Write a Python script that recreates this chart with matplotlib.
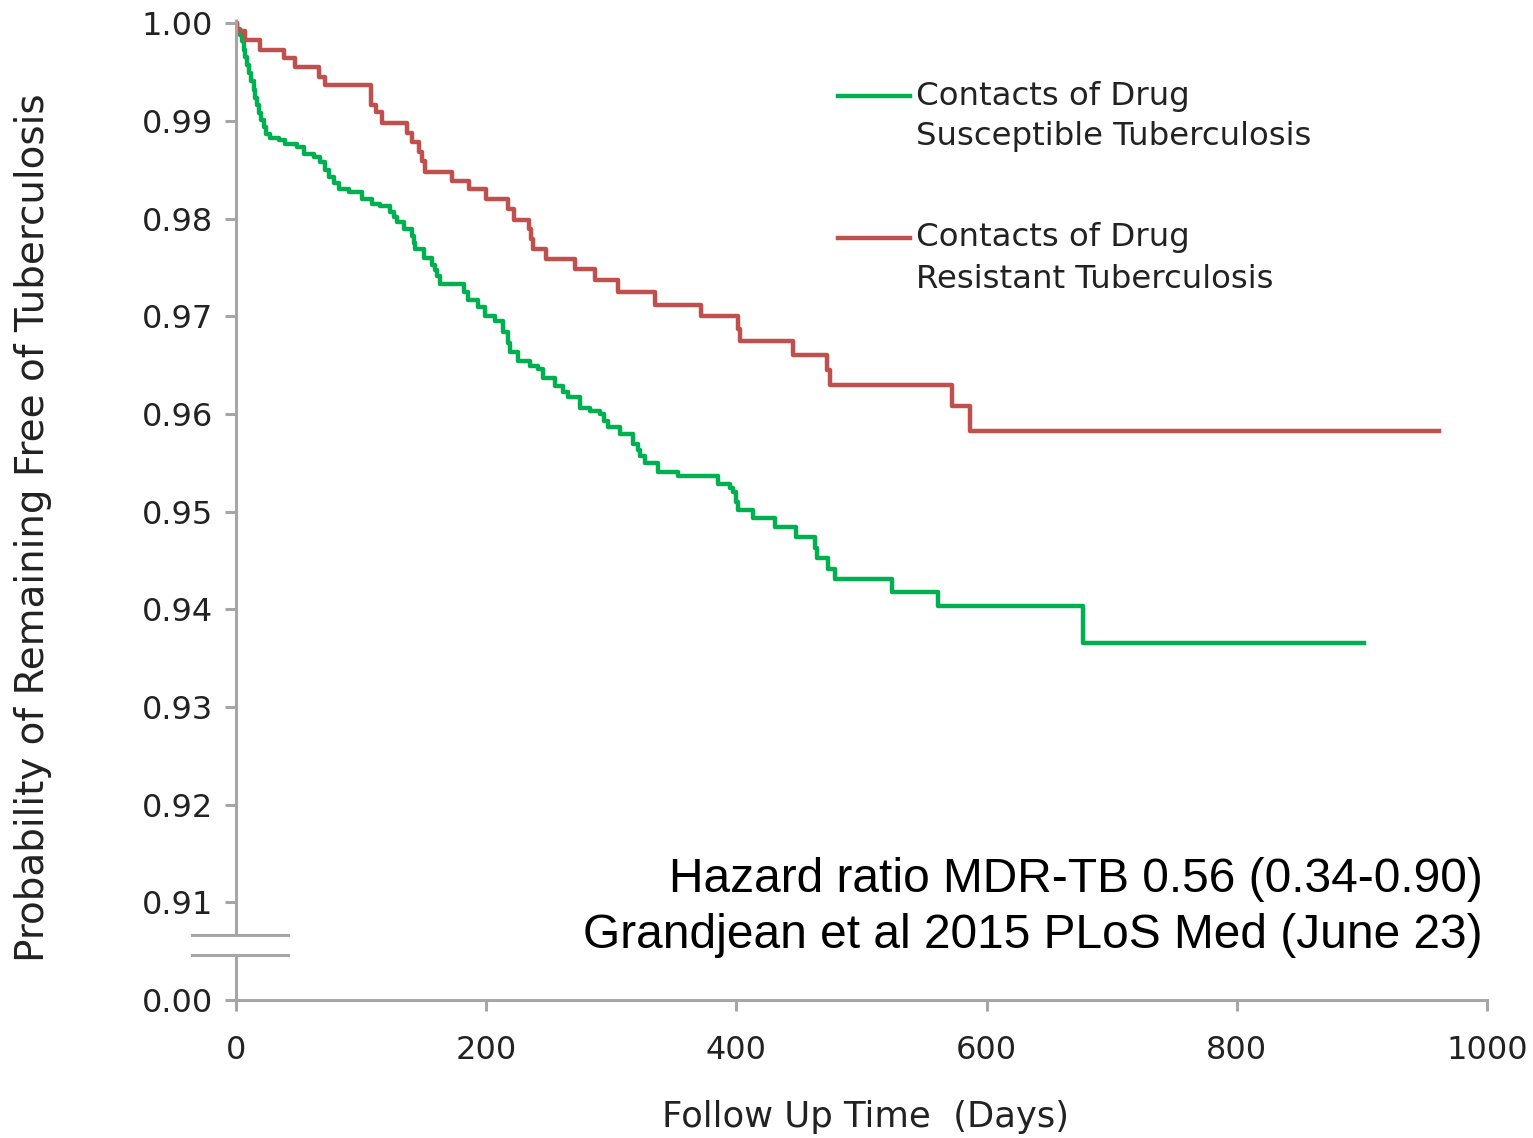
import numpy as np
import matplotlib
matplotlib.use("Agg")
import matplotlib.pyplot as plt
from matplotlib.lines import Line2D

# Kaplan-Meier step data (days, survival after each drop)
ds_days = [1, 3, 5, 6, 7, 9, 10, 12, 14, 15, 17, 18, 20, 22, 24, 27, 34, 39, 49, 54,
           62, 67, 71, 74, 78, 82, 90, 101, 109, 115, 123, 126, 129, 134, 141, 142, 143,
           150, 157, 159, 161, 163, 182, 185, 193, 199, 207, 213, 217, 219, 225, 235,
           241, 245, 255, 261, 265, 275, 283, 291, 294, 297, 307, 317, 321, 323, 327,
           337, 353, 385, 395, 397, 400, 401, 413, 431, 448, 463, 464, 473, 479, 524,
           561, 677]
ds_surv = [0.9994, 0.9988, 0.9982, 0.9973, 0.9965, 0.9957, 0.9949, 0.9941, 0.9932, 0.9924,
           0.9916, 0.9908, 0.9901, 0.9894, 0.9887, 0.9883, 0.9881, 0.9876, 0.9873, 0.9866,
           0.9863, 0.9858, 0.9850, 0.9843, 0.9836, 0.9830, 0.9827, 0.9820, 0.9815, 0.9813,
           0.9807, 0.9802, 0.9797, 0.9789, 0.9782, 0.9775, 0.9769, 0.9760, 0.9753, 0.9747,
           0.9741, 0.9733, 0.9725, 0.9717, 0.9710, 0.9700, 0.9695, 0.9684, 0.9673, 0.9663,
           0.9654, 0.9649, 0.9646, 0.9637, 0.9629, 0.9622, 0.9617, 0.9606, 0.9603, 0.9600,
           0.9593, 0.9587, 0.9579, 0.9569, 0.9563, 0.9557, 0.9550, 0.9541, 0.9536, 0.9528,
           0.9524, 0.9520, 0.9510, 0.9502, 0.9493, 0.9484, 0.9474, 0.9463, 0.9453, 0.9441,
           0.9431, 0.9418, 0.9403, 0.9366]
ds_end = 902

dr_days = [1, 7, 19, 38, 47, 66, 71, 108, 112, 117, 137, 141, 146, 149, 151, 173, 186,
           200, 217, 222, 234, 236, 237, 248, 271, 287, 305, 335, 372, 401, 403, 445, 472,
           475, 572, 587]
dr_surv = [0.9992, 0.9983, 0.9973, 0.9964, 0.9955, 0.9945, 0.9937, 0.9916, 0.9909, 0.9898,
           0.9888, 0.9878, 0.9868, 0.9859, 0.9848, 0.9839, 0.9830, 0.9820, 0.9810, 0.9799,
           0.9789, 0.9779, 0.9769, 0.9759, 0.9748, 0.9737, 0.9725, 0.9712, 0.9700, 0.9687,
           0.9675, 0.9660, 0.9645, 0.9630, 0.9608, 0.9583]
dr_end = 962

ytick_pos = [0.90, 0.91, 0.92, 0.93, 0.94, 0.95, 0.96, 0.97, 0.98, 0.99, 1.00]
ytick_labels = ["0.00", "0.91", "0.92", "0.93", "0.94", "0.95", "0.96", "0.97", "0.98", "0.99", "1.00"]
xtick_pos = [0, 200, 400, 600, 800, 1000]

green = "#00b050"
red = "#c0504d"
axis_gray = "#a6a6a6"
text_col = "#222222"


def km_curve(days, surv, end):
    x = np.concatenate([[0], days, [end]])
    y = np.concatenate([[1.0], surv, [surv[-1]]])
    return x, y


fig = plt.figure(figsize=(15.33, 11.38), dpi=100)
ax = fig.add_axes([0.1540, 0.12127, 0.8160, 0.8617])

x, y = km_curve(ds_days, ds_surv, ds_end)
ax.step(x, y, where="post", color=green, lw=3.2)
x, y = km_curve(dr_days, dr_surv, dr_end)
ax.step(x, y, where="post", color=red, lw=3.2)

ax.set_xlim(0, 1000)
ax.set_ylim(0.90, 1.0004)

for s in ["top", "right", "left"]:
    ax.spines[s].set_visible(False)
ax.spines["bottom"].set_color(axis_gray)
ax.spines["bottom"].set_linewidth(2.2)

# left axis drawn by hand so it can carry the break
ax.plot([0, 0], [0.9067, 1.0004], color=axis_gray, lw=2.2, clip_on=False,
        solid_capstyle="butt")
ax.plot([0, 0], [0.90, 0.9046], color=axis_gray, lw=2.2, clip_on=False,
        solid_capstyle="butt")
ax.plot([-35, 41.5], [0.9067, 0.9067], color=axis_gray, lw=2.2, clip_on=False)
ax.plot([-35, 41.5], [0.9046, 0.9046], color=axis_gray, lw=2.2, clip_on=False)

ax.set_yticks(ytick_pos)
ax.set_yticklabels(ytick_labels)
ax.set_xticks(xtick_pos)
ax.tick_params(axis="y", length=8, width=2.2, color=axis_gray, pad=8.5,
               labelsize=23, labelcolor=text_col)
ax.tick_params(axis="x", length=8, width=2.2, color=axis_gray, pad=17,
               labelsize=23, labelcolor=text_col)

ax.set_xlabel("Follow Up Time  (Days)", fontsize=25.5, color=text_col)
ax.xaxis.set_label_coords(0.503, -0.1195)
ax.xaxis.label.set_va("center")
ax.set_ylabel("Probability of Remaining Free of Tuberculosis", fontsize=28,
              color=text_col)
ax.yaxis.set_label_coords(-0.1623, 0.482)
ax.yaxis.label.set_va("center")

# legend drawn by hand: handle sits beside the first line of each label
W, H = 1533, 1138
legend_rows = [(green, 96, "Contacts of Drug", "Susceptible Tuberculosis"),
               (red, 238, "Contacts of Drug", "Resistant Tuberculosis")]
for col, ypx, line1, line2 in legend_rows:
    fig.add_artist(Line2D([838 / W, 910 / W], [1 - ypx / H, 1 - ypx / H],
                          color=col, lw=3.2))
    fig.text(916 / W, 1 - ypx / H, line1, fontsize=23.3, color=text_col,
             ha="left", va="center")
    fig.text(916 / W, 1 - (ypx + 41) / H, line2, fontsize=23.3, color=text_col,
             ha="left", va="center")

fig.text(1483 / W, 1 - 880 / H, "Hazard ratio MDR-TB 0.56 (0.34-0.90)",
         fontsize=34.5, family="Liberation Sans", ha="right", va="center")
fig.text(1483 / W, 1 - 935 / H, "Grandjean et al 2015 PLoS Med (June 23)",
         fontsize=34.5, family="Liberation Sans", ha="right", va="center")

fig.savefig("out.png", dpi=100)
